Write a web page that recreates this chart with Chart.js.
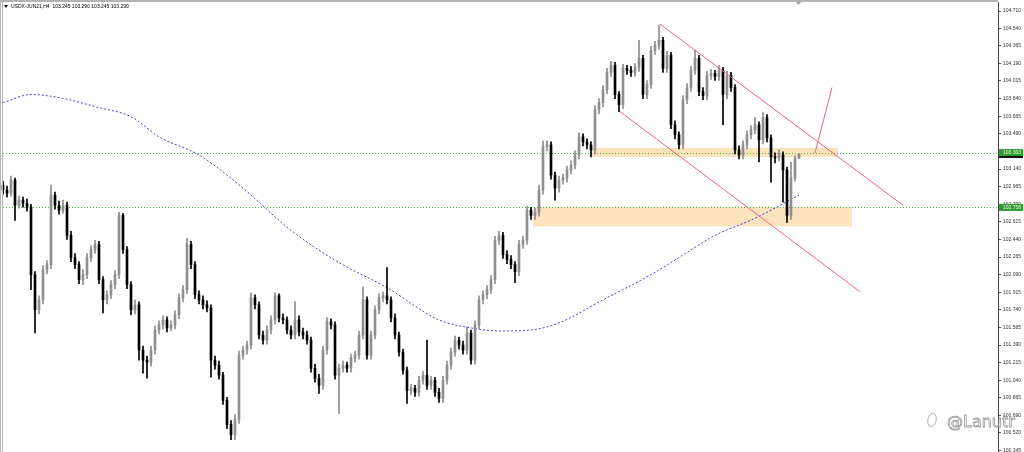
<!DOCTYPE html>
<html>
<head>
<meta charset="utf-8">
<title>USDX-JUN21,H4</title>
<script src="https://cdn.jsdelivr.net/npm/chart.js@4.4.0/dist/chart.umd.min.js"></script>
<style>
  html, body { margin: 0; padding: 0; background: #fff; }
  #wrap { width: 1024px; height: 452px; position: relative; }
</style>
</head>
<body>
<div id="wrap"><canvas id="usdxChart"></canvas></div>
<script>
// header of the chart window
const symbolTitle = 'USDX-JUN21,H4';
const headerQuote = ['103.245', '103.290', '103.245', '103.290'];

// H4 candles, oldest first
const opens = [
  102.98,102.93,102.90,103.03,102.78,102.83,102.80,102.76,102.09,101.74,
  101.84,102.14,102.19,102.88,102.78,102.73,102.78,102.48,102.26,102.19,
  102.04,102.09,102.26,102.34,102.39,102.04,101.84,101.89,101.99,102.09,
  102.68,102.34,101.99,101.74,101.79,101.34,101.24,101.22,101.34,101.54,
  101.59,101.64,101.56,101.59,101.69,101.86,101.94,102.39,102.19,101.89,
  101.84,101.79,101.76,101.24,101.19,101.09,100.84,100.60,100.50,100.65,
  101.29,101.34,101.39,101.86,101.79,101.49,101.44,101.54,101.64,101.88,
  101.66,101.64,101.54,101.49,101.64,101.52,101.49,101.44,101.16,101.06,
  100.99,101.34,101.62,101.59,101.09,101.16,101.19,101.16,101.26,101.29,
  101.49,101.84,101.29,101.49,101.74,101.86,101.88,101.84,101.66,101.49,
  101.32,101.14,100.94,100.96,100.92,101.04,101.09,100.99,101.04,100.92,
  100.86,101.04,101.19,101.32,101.44,101.39,101.34,101.51,101.24,101.59,
  101.84,101.89,101.94,102.04,102.43,102.48,102.29,102.24,102.19,102.12,
  102.39,102.43,102.73,102.68,102.71,102.93,103.36,103.38,103.08,102.95,
  103.03,103.05,103.13,103.18,103.28,103.46,103.41,103.38,103.33,103.73,
  103.80,103.93,104.10,104.17,103.88,103.78,104.14,104.12,104.10,104.15,
  104.24,103.88,103.98,104.32,104.37,104.42,104.14,104.27,103.58,103.48,
  103.38,103.83,103.95,104.12,104.24,103.91,103.87,104.07,104.09,104.06,
  104.12,103.88,104.07,103.95,103.33,103.28,103.38,103.48,103.53,103.58,
  103.43,103.65,103.45,103.26,103.25,103.28,103.13,102.68,103.05,103.245
];
const highs = [
  103.02,102.97,103.07,103.05,102.87,102.86,102.84,102.79,102.12,101.88,
  102.18,102.23,102.98,102.91,102.82,102.83,102.81,102.52,102.30,102.22,
  102.14,102.30,102.38,102.43,102.42,102.07,101.93,102.03,102.13,102.71,
  102.70,102.37,102.02,101.84,101.82,101.38,101.28,101.38,101.58,101.63,
  101.68,101.67,101.63,101.73,101.90,101.98,102.45,102.42,102.22,101.93,
  101.88,101.83,101.79,101.28,101.23,101.12,100.87,100.64,100.70,101.33,
  101.38,101.43,101.91,101.89,101.82,101.53,101.58,101.68,101.91,101.90,
  101.70,101.67,101.58,101.82,101.68,101.56,101.53,101.47,101.20,101.10,
  101.38,101.66,101.65,101.62,101.20,101.23,101.22,101.30,101.33,101.53,
  101.97,101.87,101.53,101.78,101.90,101.92,102.16,101.87,101.70,101.52,
  101.35,101.17,101.00,100.99,101.08,101.13,101.44,101.08,101.07,100.96,
  101.08,101.23,101.36,101.48,101.47,101.43,101.57,101.54,101.63,101.88,
  101.93,101.98,102.08,102.47,102.52,102.51,102.33,102.28,102.22,102.43,
  102.47,102.77,102.76,102.75,102.98,103.42,103.42,103.41,103.11,103.07,
  103.09,103.17,103.22,103.32,103.50,103.49,103.44,103.41,103.77,103.84,
  103.97,104.14,104.21,104.20,103.91,104.18,104.17,104.16,104.19,104.42,
  104.27,104.02,104.36,104.41,104.57,104.45,104.31,104.30,103.62,103.51,
  103.87,103.99,104.16,104.32,104.27,103.95,104.11,104.13,104.12,104.17,
  104.15,104.11,104.10,103.98,103.37,103.42,103.52,103.57,103.65,103.61,
  103.70,103.68,103.48,103.30,103.33,103.31,103.16,103.21,103.27,103.29
];
const lows = [
  102.89,102.86,102.87,102.63,102.75,102.76,102.72,101.94,101.51,101.70,
  101.80,102.10,102.15,102.74,102.69,102.70,102.44,102.22,102.15,102.00,
  101.99,102.05,102.22,102.30,102.00,101.71,101.80,101.85,101.95,102.05,
  102.30,101.95,101.69,101.70,101.24,101.11,101.06,101.18,101.30,101.50,
  101.55,101.52,101.53,101.55,101.65,101.82,101.90,102.15,101.85,101.80,
  101.75,101.72,101.07,101.15,101.05,100.80,100.56,100.45,100.45,100.61,
  101.25,101.30,101.35,101.75,101.45,101.40,101.40,101.50,101.60,101.62,
  101.60,101.50,101.45,101.45,101.48,101.45,101.40,101.12,101.02,100.91,
  100.95,101.30,101.55,101.05,100.71,101.12,101.12,101.12,101.22,101.25,
  101.45,101.25,101.25,101.45,101.70,101.82,101.80,101.62,101.45,101.28,
  101.10,100.81,100.90,100.88,100.88,101.00,100.95,100.95,100.88,100.82,
  100.82,101.00,101.15,101.28,101.35,101.30,101.30,101.20,101.20,101.55,
  101.80,101.85,101.90,102.00,102.39,102.25,102.20,102.15,102.01,102.08,
  102.35,102.39,102.64,102.64,102.67,102.89,103.32,103.04,102.83,102.91,
  102.99,103.01,103.09,103.14,103.24,103.37,103.34,103.26,103.29,103.69,
  103.76,103.89,104.06,103.84,103.71,103.74,104.08,104.06,104.06,104.11,
  103.84,103.84,103.94,104.28,104.33,104.10,104.10,103.54,103.44,103.34,
  103.34,103.79,103.91,104.08,103.87,103.83,103.83,104.03,104.02,104.02,
  103.58,103.84,103.91,103.29,103.24,103.24,103.34,103.44,103.49,103.21,
  103.39,103.41,103.01,103.20,103.22,102.81,102.61,102.64,103.02,103.245
];
const closes = [
  102.93,102.90,103.03,102.78,102.83,102.80,102.76,102.09,101.74,101.84,
  102.14,102.19,102.88,102.78,102.73,102.78,102.48,102.26,102.19,102.04,
  102.09,102.26,102.34,102.39,102.04,101.84,101.89,101.99,102.09,102.68,
  102.34,101.99,101.74,101.79,101.34,101.24,101.22,101.34,101.54,101.59,
  101.64,101.56,101.59,101.69,101.86,101.94,102.39,102.19,101.89,101.84,
  101.79,101.76,101.24,101.19,101.09,100.84,100.60,100.50,100.65,101.29,
  101.34,101.39,101.86,101.79,101.49,101.44,101.54,101.64,101.88,101.66,
  101.64,101.54,101.49,101.64,101.52,101.49,101.44,101.16,101.06,100.99,
  101.34,101.62,101.59,101.09,101.16,101.19,101.16,101.26,101.29,101.49,
  101.84,101.29,101.49,101.74,101.86,101.88,101.84,101.66,101.49,101.32,
  101.14,100.94,100.96,100.92,101.04,101.09,100.99,101.04,100.92,100.86,
  101.04,101.19,101.32,101.44,101.39,101.34,101.51,101.24,101.59,101.84,
  101.89,101.94,102.04,102.43,102.48,102.29,102.24,102.19,102.12,102.39,
  102.43,102.73,102.68,102.71,102.93,103.36,103.38,103.08,102.95,103.03,
  103.05,103.13,103.18,103.28,103.46,103.41,103.38,103.33,103.73,103.80,
  103.93,104.10,104.17,103.88,103.78,104.14,104.12,104.10,104.15,104.24,
  103.88,103.98,104.32,104.37,104.42,104.14,104.27,103.58,103.48,103.38,
  103.83,103.95,104.12,104.24,103.91,103.87,104.07,104.09,104.06,104.12,
  103.88,104.07,103.95,103.33,103.28,103.38,103.48,103.53,103.58,103.43,
  103.65,103.45,103.26,103.25,103.28,103.13,102.68,103.05,103.245,103.29
];

// dotted moving average, read at a few bars
const maIndex = [0, 7, 14, 24, 32, 39, 49, 56, 62, 72, 84, 96, 109, 117, 124, 132, 139, 150, 162, 169, 178, 188, 199];
const maValue = [103.80, 103.88, 103.85, 103.75, 103.66, 103.46, 103.28, 103.08, 102.88, 102.53, 102.21, 101.96,
                 101.64, 101.56, 101.53, 101.54, 101.61, 101.84, 102.09, 102.26, 102.48, 102.65, 102.88];

// price axis labels
const priceTicks = [104.710, 104.540, 104.365, 104.190, 104.015, 103.840, 103.665, 103.490, 103.315,
                    103.140, 102.965, 102.790, 102.615, 102.440, 102.265, 102.090, 101.915, 101.740,
                    101.565, 101.390, 101.215, 101.040, 100.865, 100.690, 100.520, 100.345];

// horizontal levels and supply/demand zones
const levelLines = [103.303, 102.758];
const zoneStart = [146.75, 132.5];
const zoneEnd = [208.75, 212.25];
const zoneLow = [103.26, 102.57];
const zoneHigh = [103.35, 102.76];

// drawn trend lines (bar index, price)
const upperChannelX = [164.25, 225];
const upperChannelY = [104.58, 102.78];
const lowerChannelX = [154.25, 214.25];
const lowerChannelY = [103.71, 101.92];
const breakoutX = [203, 207.25];
const breakoutY = [103.30, 103.95];

const lastPrice = 103.29;

function attach(xs, ys) {
  return xs.map((x, k) => ({ x: x, y: ys[k] }));
}

const candleIndex = opens.map((o, i) => i);
const candleColors = candleIndex.map(i => closes[i] >= opens[i] ? '#8e8e8e' : '#000000');

const backdrop = {
  id: 'backdrop',
  beforeDatasetsDraw(chart) {
    const { ctx, chartArea, scales } = chart;
    const x = scales.x, y = scales.y;
    ctx.save();
    ctx.fillStyle = 'rgba(252, 216, 168, 0.75)';
    zoneStart.forEach((s, k) => {
      const x1 = x.getPixelForValue(s), x2 = x.getPixelForValue(zoneEnd[k]);
      const y1 = y.getPixelForValue(zoneHigh[k]), y2 = y.getPixelForValue(zoneLow[k]);
      ctx.fillRect(x1, y1, x2 - x1, y2 - y1);
    });
    ctx.strokeStyle = '#3fb83f';
    ctx.lineWidth = 1;
    ctx.setLineDash([1, 2]);
    levelLines.forEach(v => {
      const py = Math.round(y.getPixelForValue(v)) + 0.5;
      ctx.beginPath();
      ctx.moveTo(chartArea.left, py);
      ctx.lineTo(chartArea.right, py);
      ctx.stroke();
    });
    ctx.restore();
  },
  afterDraw(chart) {
    const { ctx, chartArea, scales } = chart;
    const y = scales.y;
    ctx.save();
    // window frame
    ctx.fillStyle = '#b4b4b4';
    ctx.fillRect(0, 0, chartArea.right, 2);
    ctx.fillRect(0, 0, 1, 452);
    ctx.fillRect(2, 0, 1, 452);

    // price tags on the axis
    ctx.font = '5px "Liberation Sans", Arial, sans-serif';
    ctx.textBaseline = 'middle';
    ctx.textAlign = 'left';
    const tagX = chartArea.right + 1;
    const py0 = y.getPixelForValue(lastPrice);
    ctx.fillStyle = '#000';
    ctx.fillRect(tagX, py0 - 3, 24, 7);
    levelLines.forEach(v => {
      const py = y.getPixelForValue(v);
      ctx.fillStyle = '#2f9b2f';
      ctx.fillRect(tagX, py - 3.5, 24, 7);
      ctx.fillStyle = '#e8ffe8';
      ctx.fillText(v.toFixed(3), tagX + 4, py + 0.5);
    });

    // header
    ctx.fillStyle = '#000';
    ctx.beginPath();
    ctx.moveTo(4, 5); ctx.lineTo(8, 5); ctx.lineTo(6, 8); ctx.closePath();
    ctx.fill();
    ctx.font = '5px "Liberation Sans", Arial, sans-serif';
    ctx.fillText(symbolTitle + '  ' + headerQuote.join(' '), 11, 6.5);

    // top shift marker
    ctx.fillStyle = '#a0a0a0';
    ctx.beginPath();
    ctx.moveTo(796, 2); ctx.lineTo(801, 2); ctx.lineTo(798.5, 5); ctx.closePath();
    ctx.fill();

    // watermark
    ctx.strokeStyle = '#9c9c9c';
    ctx.lineWidth = 0.8;
    ctx.beginPath();
    ctx.ellipse(932, 420, 4, 7, 0.2, 0.9, Math.PI * 2.6);
    ctx.stroke();
    ctx.font = '16px "DejaVu Sans", sans-serif';
    ctx.textBaseline = 'alphabetic';
    ctx.strokeText('@Lanutr', 947, 427);
    ctx.restore();
  }
};

new Chart(document.getElementById('usdxChart'), {
  type: 'bar',
  data: {
    datasets: [
      {
        label: 'MA',
        type: 'line',
        data: attach(maIndex, maValue),
        borderColor: '#4444c8',
        borderWidth: 1,
        borderDash: [2, 2],
        pointRadius: 0,
        cubicInterpolationMode: 'monotone',
        order: 3
      },
      {
        label: 'Wicks',
        data: candleIndex.map(i => ({ x: i, y: [lows[i], highs[i]] })),
        backgroundColor: candleColors,
        barThickness: 1,
        grouped: false,
        minBarLength: 1,
        order: 2
      },
      {
        label: 'Bodies',
        data: candleIndex.map(i => ({ x: i, y: [opens[i], closes[i]] })),
        backgroundColor: candleColors,
        barThickness: 2,
        grouped: false,
        minBarLength: 1,
        order: 1
      },
      {
        label: 'Upper channel',
        type: 'line',
        data: attach(upperChannelX, upperChannelY),
        borderColor: '#e8647e',
        borderWidth: 1,
        pointRadius: 0,
        order: 0
      },
      {
        label: 'Lower channel',
        type: 'line',
        data: attach(lowerChannelX, lowerChannelY),
        borderColor: '#e8647e',
        borderWidth: 1,
        pointRadius: 0,
        order: 0
      },
      {
        label: 'Breakout',
        type: 'line',
        data: attach(breakoutX, breakoutY),
        borderColor: '#e8647e',
        borderWidth: 1,
        pointRadius: 0,
        order: 0
      }
    ]
  },
  options: {
    responsive: true,
    maintainAspectRatio: false,
    animation: false,
    layout: { padding: { top: 2, left: 0, right: 0, bottom: 0 } },
    plugins: {
      legend: { display: false },
      tooltip: { enabled: false }
    },
    scales: {
      x: {
        type: 'linear',
        min: -0.75,
        max: 248.75,
        offset: false,
        display: false
      },
      y: {
        position: 'right',
        min: 100.327,
        max: 104.80,
        afterBuildTicks: scale => {
          scale.ticks = priceTicks.map(v => ({ value: v }));
        },
        afterFit: scale => {
          scale.width = 26;
          scale.paddingTop = 0;
          scale.paddingBottom = 0;
        },
        grid: { drawOnChartArea: false, drawTicks: true, tickLength: 3, color: '#555' },
        border: { display: true, color: '#444', width: 1 },
        ticks: {
          autoSkip: false,
          padding: 2,
          color: '#333',
          font: { size: 5, family: '"Liberation Sans", Arial, sans-serif' },
          callback: v => Number(v).toFixed(3)
        }
      }
    }
  },
  plugins: [backdrop]
});
</script>
</body>
</html>
